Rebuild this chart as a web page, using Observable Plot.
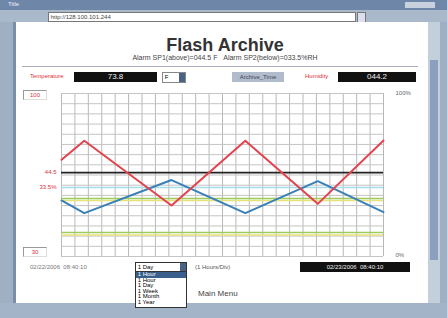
<!DOCTYPE html>
<html><head><meta charset="utf-8">
<script src="https://cdn.jsdelivr.net/npm/d3@7"></script>
<script src="https://cdn.jsdelivr.net/npm/@observablehq/plot@0.6"></script>
<style>
html,body{margin:0;padding:0;width:447px;height:318px;overflow:hidden;background:#9fb0c4;font-family:"Liberation Sans",Arial,sans-serif;}
.abs{position:absolute;}
#chart{position:absolute;left:20px;top:85px;}
.blk{background:#111;color:#eee;font-size:8px;text-align:center;}
.red{color:#e0303a;}
.small{font-size:6px;}
.arr{position:absolute;right:0;top:0;width:6px;height:100%;background:#4a6285;}
</style></head>
<body>
<div class="abs" style="left:0;top:0;width:447px;height:10px;background:#6e87a8;"></div>
<div class="abs small" style="left:8px;top:1px;color:#eef;">Title</div>
<div class="abs" style="left:405px;top:2px;width:30px;height:6px;background:#c8d2de;"></div>
<div class="abs" style="left:0;top:10px;width:447px;height:12px;background:#a9b8ca;"></div>
<div class="abs small" style="left:48px;top:12px;width:306px;height:8px;background:#fff;border:1px solid #777;line-height:8px;color:#444;">&nbsp;http://128.100.101.244</div>
<div class="abs" style="left:357px;top:12px;width:7px;height:9px;background:#dde;border:1px solid #777;"></div>
<div class="abs" style="left:13px;top:22px;width:416px;height:281px;background:#fff;border-left:3px solid #7a8ea8;"></div>
<div class="abs" style="left:428px;top:22px;width:12px;height:281px;background:#c4cfdc;"></div>
<div class="abs" style="left:430px;top:60px;width:8px;height:200px;background:#8aa0bc;"></div>
<div class="abs" style="left:0;top:303px;width:447px;height:15px;background:#a3b4c8;"></div>
<div class="abs" style="left:20px;top:35px;width:410px;text-align:center;font-weight:bold;font-size:18px;color:#333;">Flash Archive</div>
<div class="abs" style="left:20px;top:54px;width:410px;text-align:center;font-size:7px;color:#444;">Alarm SP1(above)=044.5 F&nbsp;&nbsp;&nbsp;Alarm SP2(below)=033.5%RH</div>
<div class="abs" style="left:22px;top:66px;width:396px;height:1px;background:#aab;"></div>
<div class="abs small red" style="left:30px;top:73px;">Temperature</div>
<div class="abs blk" style="left:74px;top:72px;width:83px;height:10px;line-height:10px;">73.8</div>
<div class="abs small" style="left:162px;top:72px;width:22px;height:9px;border:1px solid #888;line-height:9px;">&nbsp;F<div class="arr"></div></div>
<div class="abs small" style="left:232px;top:72px;width:52px;height:10px;background:#b0bccb;line-height:10px;text-align:center;color:#445;">Archive_Time</div>
<div class="abs small red" style="left:305px;top:73px;">Humidity</div>
<div class="abs blk" style="left:338px;top:72px;width:78px;height:10px;line-height:10px;">044.2</div>
<div class="abs small red" style="left:23px;top:90px;width:22px;height:8px;border:1px solid #999;border-right-color:#ddd;border-bottom-color:#ddd;text-align:center;line-height:8px;">100</div>
<div class="abs small red" style="left:23px;top:247px;width:22px;height:8px;border:1px solid #999;border-right-color:#ddd;border-bottom-color:#ddd;text-align:center;line-height:8px;">30</div>
<div class="abs small" style="left:30px;top:264px;color:#777;">02/22/2006&nbsp;&nbsp;08:40:10</div>
<div class="abs small" style="left:135px;top:262px;width:50px;height:8px;border:1px solid #333;line-height:8px;">&nbsp;1 Day<div class="arr"></div></div>
<div class="abs small" style="left:135px;top:271px;width:50px;height:35px;border:1px solid #333;background:#fff;line-height:5.5px;">
<div style="background:#3a5f8c;color:#fff;">&nbsp;1 Hour</div>&nbsp;1 Hour<br>&nbsp;1 Day<br>&nbsp;1 Week<br>&nbsp;1 Month<br>&nbsp;1 Year</div>
<div class="abs small" style="left:195px;top:264px;color:#555;">(1 Hours/Div)</div>
<div class="abs blk small" style="left:300px;top:262px;width:110px;height:10px;line-height:10px;">02/23/2006&nbsp;&nbsp;08:40:10</div>
<div class="abs" style="left:198px;top:289px;font-size:8px;color:#444;">Main Menu</div>
<div id="chart"></div>
<script>
const hours = [0, 1.7, 8.2, 13.7, 19.1, 24];
const temperature = [59.3, 71, 31.3, 71, 32.3, 71.2];
const humidity = [34.4, 26.6, 46.9, 26.6, 46.2, 27.2];
const sp1Level = 51.5;
const sp2Level = 42.3;
const greenLevels = [35.6, 14.7];
const yellowLevels = [34.4, 13.2];
const xTicks = d3.range(0, 25, 1);
const yTicks = d3.range(0, 101, 100 / 16);
const yLabels = [{y: 51.5, t: "44.5"}, {y: 42.3, t: "33.5%"}];
const rightLabels = [{y: 100, t: "100%"}, {y: 1, t: "0%"}];

const tData = hours.map((h, i) => ({h, v: temperature[i]}));
const hData = hours.map((h, i) => ({h, v: humidity[i]}));

const chart = Plot.plot({
  width: 400, height: 180,
  marginLeft: 41, marginRight: 37, marginTop: 8, marginBottom: 9,
  x: {domain: [0, 24], axis: null},
  y: {domain: [0, 100], axis: null},
  style: {background: "transparent", fontFamily: "Liberation Sans, Arial"},
  marks: [
    Plot.ruleX(xTicks, {stroke: "#b8b8b8", strokeWidth: 1}),
    Plot.ruleY(yTicks, {stroke: "#c4c4c4", strokeWidth: 1}),
    Plot.ruleY(greenLevels, {stroke: "#9dcc5e", strokeWidth: 1.5}),
    Plot.ruleY(yellowLevels, {stroke: "#e6e27c", strokeWidth: 1.5}),
    Plot.ruleY([sp2Level], {stroke: "#a6dcec", strokeWidth: 1.5}),
    Plot.ruleY([sp1Level], {stroke: "#222", strokeWidth: 1.8}),
    Plot.line(hData, {x: "h", y: "v", stroke: "#3a80b8", strokeWidth: 2}),
    Plot.line(tData, {x: "h", y: "v", stroke: "#e4424e", strokeWidth: 2}),
    Plot.text(yLabels, {x: 0, y: "y", text: "t", dx: -5, textAnchor: "end", fill: "#e0303a", fontSize: 6}),
    Plot.text(rightLabels, {x: 24, y: "y", text: "t", dx: 12, textAnchor: "start", fill: "#666", fontSize: 6})
  ]
});
document.getElementById("chart").append(chart);
</script>
</body></html>
